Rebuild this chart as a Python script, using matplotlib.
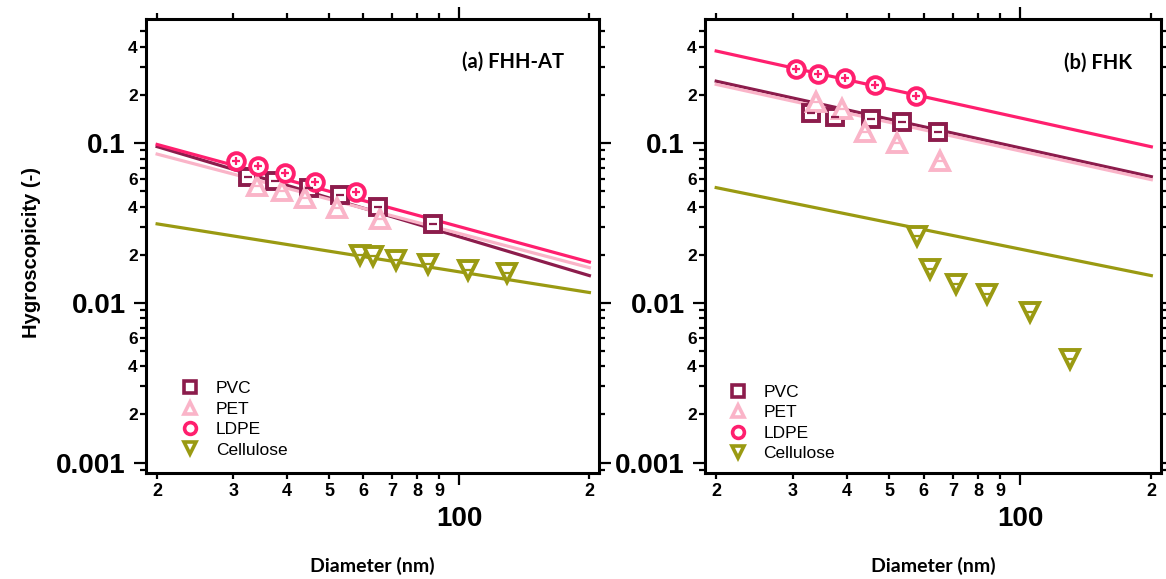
import matplotlib
matplotlib.use("Agg")
import matplotlib.pyplot as plt
from matplotlib.ticker import FixedLocator, FixedFormatter
from matplotlib.lines import Line2D

# ---------------- data ----------------
series = ["PVC", "PET", "LDPE", "Cellulose"]
colors = {"PVC": "#8C1C4C", "PET": "#FAB4C8", "LDPE": "#FF1F6E", "Cellulose": "#9A9A12"}
markers = {"PVC": "s", "PET": "^", "LDPE": "o", "Cellulose": "v"}

# panel (a) FHH-AT
pvc_d_a = [32.5, 37.5, 45, 53, 65, 87]
pvc_k_a = [0.061, 0.058, 0.052, 0.047, 0.040, 0.031]
pet_d_a = [34, 39, 44, 52, 65.5]
pet_k_a = [0.054, 0.050, 0.045, 0.0395, 0.0335]
ldpe_d_a = [30.5, 34.2, 39.5, 46.4, 57.6]
ldpe_k_a = [0.0775, 0.0718, 0.0646, 0.0570, 0.0494]
cell_d_a = [59, 63, 71.5, 84.5, 105, 129]
cell_k_a = [0.0200, 0.0195, 0.0186, 0.0176, 0.0160, 0.0154]

# panel (b) FHK
pvc_d_b = [33, 37.5, 45.4, 53.4, 64.6]
pvc_k_b = [0.155, 0.145, 0.142, 0.135, 0.117]
pet_d_b = [34, 39, 44, 52, 65.5]
pet_k_b = [0.182, 0.164, 0.118, 0.0996, 0.0775]
ldpe_d_b = [30.5, 34.2, 39.5, 46.4, 57.6]
ldpe_k_b = [0.290, 0.272, 0.255, 0.230, 0.198]
cell_d_b = [58, 62, 71, 84, 105, 130]
cell_k_b = [0.0262, 0.0163, 0.0131, 0.0114, 0.0088, 0.00445]

# fitted lines (endpoints at 20 and 200 nm)
fit_d = [20, 200]
fit_a = {"PVC": [0.095, 0.0148], "PET": [0.0853, 0.0166],
         "LDPE": [0.098, 0.018], "Cellulose": [0.0312, 0.0116]}
fit_b = {"PVC": [0.244, 0.0616], "PET": [0.233, 0.059],
         "LDPE": [0.377, 0.0948], "Cellulose": [0.0526, 0.0148]}

pts_a = {"PVC": (pvc_d_a, pvc_k_a), "PET": (pet_d_a, pet_k_a),
         "LDPE": (ldpe_d_a, ldpe_k_a), "Cellulose": (cell_d_a, cell_k_a)}
pts_b = {"PVC": (pvc_d_b, pvc_k_b), "PET": (pet_d_b, pet_k_b),
         "LDPE": (ldpe_d_b, ldpe_k_b), "Cellulose": (cell_d_b, cell_k_b)}

x_minor = [20, 30, 40, 50, 60, 70, 80, 90, 200]
x_minor_lbl = ["2", "3", "4", "5", "6", "7", "8", "9", "2"]
x_major = [100]
x_major_lbl = ["100"]
y_major = [0.001, 0.01, 0.1]
y_major_lbl = ["0.001", "0.01", "0.1"]

panel_titles = ["(a) FHH-AT", "(b) FHK"]

# ---------------- style ----------------
AX_FONT = "Liberation Sans"
CAL_FONT = "Lato"
ms_map = {"PVC": 12, "PET": 13.5, "LDPE": 12, "Cellulose": 13.5}
inner_map = {"PVC": "_", "PET": "_", "LDPE": "+", "Cellulose": "_"}

fig = plt.figure(figsize=(11.66, 5.79), dpi=100)
W, H = 1166, 579
bot_px, top_px = 473, 19
ax_a = fig.add_axes([146 / W, (H - bot_px) / H, 453 / W, (bot_px - top_px) / H])
ax_b = fig.add_axes([705 / W, (H - bot_px) / H, 456 / W, (bot_px - top_px) / H])


def setup(ax):
    ax.set_xscale("log")
    ax.set_yscale("log")
    ax.set_xlim(18.85, 210.5)
    ax.set_ylim(0.00086, 0.598)
    ax.xaxis.set_major_locator(FixedLocator(x_major))
    ax.xaxis.set_major_formatter(FixedFormatter(x_major_lbl))
    ax.xaxis.set_minor_locator(FixedLocator(x_minor))
    ax.xaxis.set_minor_formatter(FixedFormatter(x_minor_lbl))
    ymin_locs, ymin_lbls = [], []
    for e in [1e-4, 1e-3, 1e-2, 1e-1]:
        for m in range(2, 10):
            v = m * e
            if 0.00086 <= v <= 0.598:
                ymin_locs.append(v)
                ymin_lbls.append(str(m) if m in (2, 4, 6) else "")
    ax.yaxis.set_major_locator(FixedLocator(y_major))
    ax.yaxis.set_major_formatter(FixedFormatter(y_major_lbl))
    ax.yaxis.set_minor_locator(FixedLocator(ymin_locs))
    ax.yaxis.set_minor_formatter(FixedFormatter(ymin_lbls))
    for s in ax.spines.values():
        s.set_linewidth(2.2)
    ax.tick_params(which="both", direction="out", top=True, right=True,
                   labeltop=False, labelright=False, width=1.6, color="black")
    ax.tick_params(axis="x", which="major", length=8.5, pad=15)
    ax.tick_params(axis="x", which="minor", length=4.5, pad=3)
    ax.tick_params(axis="y", which="major", length=8.5, pad=6)
    ax.tick_params(axis="y", which="minor", length=4.5, pad=1.5)
    for lbl in ax.get_xticklabels(which="major") + ax.get_yticklabels(which="major"):
        lbl.set_fontfamily(AX_FONT)
        lbl.set_fontweight("bold")
        lbl.set_fontsize(20)
    for lbl in ax.get_xticklabels(which="minor"):
        lbl.set_fontfamily(AX_FONT)
        lbl.set_fontweight("bold")
        lbl.set_fontsize(13)
    for lbl in ax.get_yticklabels(which="minor"):
        lbl.set_fontfamily(AX_FONT)
        lbl.set_fontweight("bold")
        lbl.set_fontsize(12.5)


def draw(ax, pts, fits):
    for s in series:
        ax.plot(fit_d, fits[s], color=colors[s], lw=2.3, zorder=2)
    for s in series:
        d, k = pts[s]
        ax.plot(d, k, ls="none", marker=markers[s], ms=ms_map[s],
                mfc="white", mec=colors[s], mew=2.8, zorder=3)
        ax.plot(d, k, ls="none", marker=inner_map[s], ms=6,
                mec=colors[s], mew=1.6, zorder=4)


for ax, pts, fits, title in [(ax_a, pts_a, fit_a, panel_titles[0]),
                             (ax_b, pts_b, fit_b, panel_titles[1])]:
    setup(ax)
    draw(ax, pts, fits)
    ax.set_xlabel("Diameter (nm)", fontfamily=CAL_FONT, fontweight="bold",
                  fontsize=14, labelpad=18)

ax_a.text(0.81, 0.905, panel_titles[0], transform=ax_a.transAxes, ha="center",
          va="center", fontfamily=CAL_FONT, fontweight="bold", fontsize=14.5)
ax_b.text(0.862, 0.903, panel_titles[1], transform=ax_b.transAxes, ha="center",
          va="center", fontfamily=CAL_FONT, fontweight="bold", fontsize=14.5)

ax_a.set_ylabel("Hygroscopicity (-)", fontfamily=AX_FONT, fontweight="bold",
                fontsize=14.5)
ax_a.yaxis.set_label_coords(-0.232, 0.485)

handles = [Line2D([], [], ls="none", marker=markers[s], ms=8.5, mfc="white",
                  mec=colors[s], mew=2.6) for s in series]
for ax, anchor in [(ax_a, (0.079, 0.034)), (ax_b, (0.054, 0.026))]:
    ax.legend(handles, series, loc="lower left", bbox_to_anchor=anchor,
              frameon=False, borderpad=0, borderaxespad=0, handlelength=1.0,
              handletextpad=0.95, labelspacing=0.3,
              prop={"family": AX_FONT, "size": 12.5})

fig.savefig("out.png", dpi=100)
